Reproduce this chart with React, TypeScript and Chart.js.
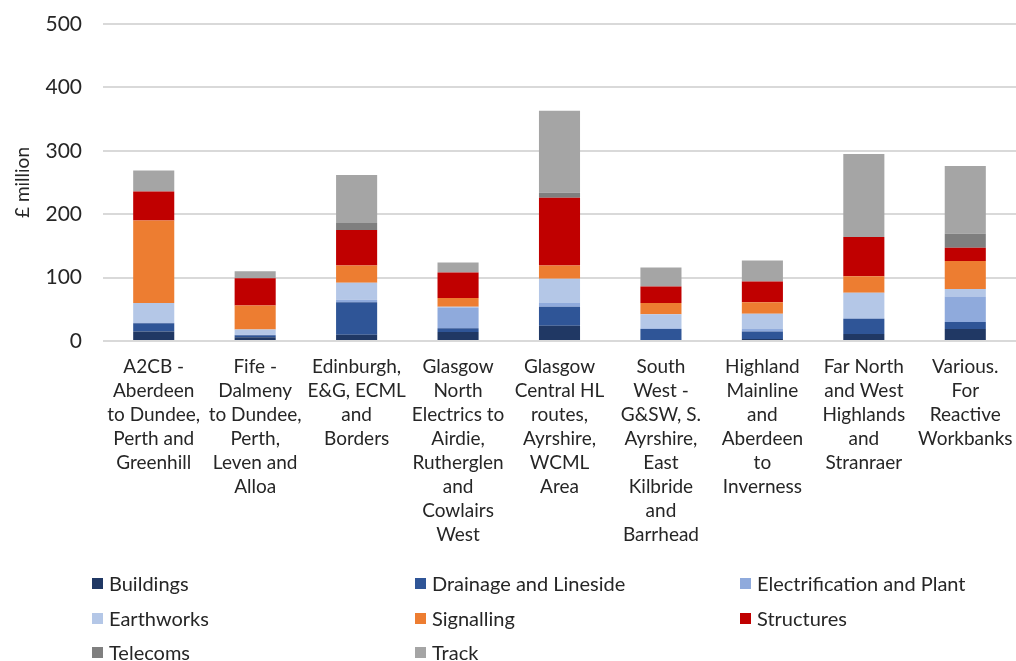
import React, { useEffect, useRef } from "react";
import { Chart, registerables } from "chart.js";

Chart.register(...registerables);

// Route categories (multi-line axis labels)
const routes: string[][] = [
  ["A2CB -", "Aberdeen", "to Dundee,", "Perth and", "Greenhill"],
  ["Fife -", "Dalmeny", "to Dundee,", "Perth,", "Leven and", "Alloa"],
  ["Edinburgh,", "E&G, ECML", "and", "Borders"],
  ["Glasgow", "North", "Electrics to", "Airdie,", "Rutherglen", "and", "Cowlairs", "West"],
  ["Glasgow", "Central HL", "routes,", "Ayrshire,", "WCML", "Area"],
  ["South", "West -", "G&SW, S.", "Ayrshire,", "East", "Kilbride", "and", "Barrhead"],
  ["Highland", "Mainline", "and", "Aberdeen", "to", "Inverness"],
  ["Far North", "and West", "Highlands", "and", "Stranraer"],
  ["Various.", "For", "Reactive", "Workbanks"],
];

// £ million by asset type, one value per route
const buildings = [15, 6, 10, 14, 24, 0, 3, 11, 19];
const drainage = [13, 3, 51, 6, 30, 19, 12, 24, 11];
const electrification = [1, 1, 4, 33, 6, 1, 4, 1, 40];
const earthworks = [31, 8, 27, 1, 38, 22, 24, 40, 12];
const signalling = [130, 38, 27, 14, 21, 18, 18, 26, 44];
const structures = [46, 43, 56, 40, 107, 26, 33, 62, 21];
const telecoms = [0, 0, 11, 0, 8, 0, 0, 0, 22];
const track = [33, 11, 76, 16, 129, 30, 33, 131, 107];

const yTicks = [0, 100, 200, 300, 400, 500];

const series = [
  { name: "Buildings", data: buildings, color: "#203864" },
  { name: "Drainage and Lineside", data: drainage, color: "#2F5597" },
  { name: "Electrification and Plant", data: electrification, color: "#8FAADC" },
  { name: "Earthworks", data: earthworks, color: "#B4C7E7" },
  { name: "Signalling", data: signalling, color: "#ED7D31" },
  { name: "Structures", data: structures, color: "#C00000" },
  { name: "Telecoms", data: telecoms, color: "#7F7F7F" },
  { name: "Track", data: track, color: "#A5A5A5" },
];

const FONT = "Lato, 'Open Sans', sans-serif";
const TEXT = "#262626";

// legend grid positions (3 columns)
const legendCols = [92, 415, 740];
const legendRows = [583, 618, 652];

export default function App() {
  const ref = useRef<HTMLCanvasElement | null>(null);

  useEffect(() => {
    if (!ref.current) return;
    const chart = new Chart(ref.current, {
      type: "bar",
      data: {
        labels: routes,
        datasets: series.map((s) => ({
          label: s.name,
          data: s.data,
          backgroundColor: s.color,
          borderWidth: 0,
          barPercentage: 0.405,
          categoryPercentage: 1,
        })),
      },
      options: {
        animation: false,
        responsive: false,
        maintainAspectRatio: false,
        layout: { padding: { top: 24, right: 0, bottom: 0, left: 0 } },
        plugins: {
          legend: { display: false },
          tooltip: { enabled: false },
        },
        scales: {
          x: {
            stacked: true,
            grid: { display: false },
            border: { display: false },
            ticks: {
              color: TEXT,
              font: { family: FONT, size: 19, lineHeight: 1.26 },
              padding: 6,
              autoSkip: false,
              maxRotation: 0,
              minRotation: 0,
            },
            afterFit: (s: any) => {
              s.height = 320;
              s.paddingLeft = 0;
              s.paddingRight = 0;
            },
          },
          y: {
            stacked: true,
            min: 0,
            max: 500,
            afterBuildTicks: (s: any) => {
              s.ticks = yTicks.map((v) => ({ value: v }));
            },
            grid: { color: "#D9D9D9", lineWidth: 2, drawTicks: false },
            border: { display: false },
            ticks: {
              color: TEXT,
              font: { family: FONT, size: 21 },
              padding: 21,
            },
            title: {
              display: true,
              text: "£ million",
              color: TEXT,
              font: { family: FONT, size: 19 },
              padding: { top: 11, bottom: 0 },
            },
            afterFit: (s: any) => {
              s.width = 103;
              s.paddingTop = 0;
              s.paddingBottom = 0;
            },
          },
        },
      },
    });
    return () => chart.destroy();
  }, []);

  return (
    <div style={{ position: "fixed", left: 0, top: 0, width: 1016, height: 661, background: "#fff" }}>
      <canvas ref={ref} width={1016} height={661} style={{ position: "absolute", left: 0, top: 0 }} />
      {series.map((s, i) => (
        <div
          key={s.name}
          style={{
            position: "absolute",
            left: legendCols[i % 3],
            top: legendRows[Math.floor(i / 3)] - 14,
            height: 28,
            display: "flex",
            alignItems: "center",
            fontFamily: FONT,
            fontSize: 20,
            color: TEXT,
            whiteSpace: "nowrap",
          }}
        >
          <span style={{ width: 11, height: 11, background: s.color, display: "inline-block", marginRight: 6 }} />
          {s.name}
        </div>
      ))}
    </div>
  );
}
